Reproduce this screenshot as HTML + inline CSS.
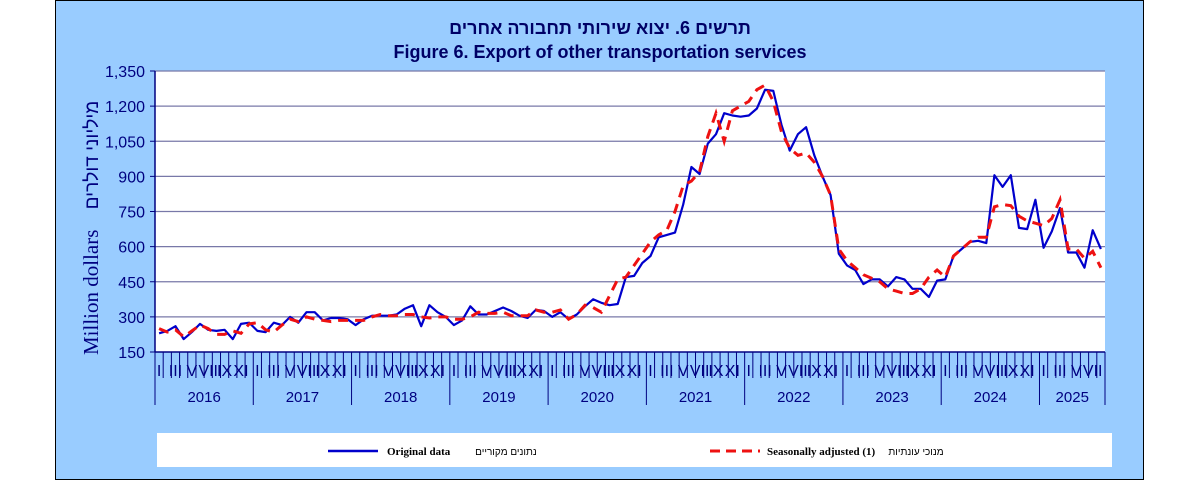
<!DOCTYPE html>
<html><head><meta charset="utf-8"><style>
body{margin:0;background:#fff;width:1200px;height:481px;overflow:hidden}
svg{display:block}
</style></head><body>
<svg id="s" width="1200" height="481" xmlns="http://www.w3.org/2000/svg" font-family="Liberation Sans, sans-serif">
<rect x="55.5" y="0.5" width="1088" height="479" fill="#99CCFF" stroke="#000" stroke-width="1"/>
<rect x="155" y="71" width="950" height="281" fill="#fff"/>
<text x="600" y="34" text-anchor="middle" font-size="18" font-weight="bold" fill="#000066" font-family="Liberation Sans, 'Noto Sans CJK JP', sans-serif">תרשים 6. יצוא שירותי תחבורה אחרים</text>
<text x="600" y="58" text-anchor="middle" font-size="18" font-weight="bold" fill="#000066">Figure 6. Export of other transportation services</text>
<g id="grid"></g>
<text transform="translate(98,355) rotate(-90)" font-size="21" fill="#000080" font-family="Liberation Serif, serif">Million dollars</text>
<text transform="translate(98,155) rotate(-90)" font-size="19" fill="#000080" text-anchor="middle" font-family="Liberation Sans, 'Noto Sans CJK JP', sans-serif">מיליוני דולרים</text>
<g id="xax"></g>
<g id="series"></g>
<rect x="157" y="433" width="955" height="34" fill="#fff"/>
<line x1="328" y1="451" x2="378" y2="451" stroke="#0000CC" stroke-width="2.5"/>
<text x="387" y="455" font-size="11" font-weight="bold" font-family="Liberation Serif, serif" fill="#000">Original data</text>
<text x="506" y="455" font-size="10" text-anchor="middle" font-family="Liberation Sans, 'Noto Sans CJK JP', sans-serif" fill="#000">נתונים מקוריים</text>
<line x1="710" y1="451" x2="760" y2="451" stroke="#EE1111" stroke-width="3" stroke-dasharray="10,6"/>
<text x="767" y="455" font-size="11" font-weight="bold" font-family="Liberation Serif, serif" fill="#000">Seasonally adjusted (1)</text>
<text x="916" y="455" font-size="10" text-anchor="middle" font-family="Liberation Sans, 'Noto Sans CJK JP', sans-serif" fill="#000">מנוכי עונתיות</text>
</svg>
<script>
var NS="http://www.w3.org/2000/svg";
function el(p,t,a,txt){var e=document.createElementNS(NS,t);for(var k in a)if(a[k]!==undefined)e.setAttribute(k,a[k]);if(txt!==undefined)e.textContent=txt;p.appendChild(e);return e;}
function Y(v){return 352-(v-150)*281/1200;}
var g=document.getElementById('grid');
for(var v=150;v<=1350;v+=150){var y=Y(v);
 if(v>150)el(g,'line',{x1:155,y1:y,x2:1105,y2:y,stroke:'#7878a8','stroke-width':1.2});
 el(g,'line',{x1:150,y1:y,x2:155,y2:y,stroke:'#000080','stroke-width':1});
 el(g,'text',{x:145,y:y+6,'text-anchor':'end','font-size':16,fill:'#000080'},v.toLocaleString('en-US'));}
el(g,'line',{x1:155,y1:71,x2:155,y2:352,stroke:'#000080','stroke-width':1.5});
var xa=document.getElementById('xax');var N=116,W=950/N;
el(xa,'line',{x1:155,y1:352,x2:1105,y2:352,stroke:'#000080','stroke-width':1.5});
var rom=['I','II','III','IV','V','VI','VII','VIII','IX','X','XI','XII'];
for(var i=0;i<=N;i++){var x=155+i*W;var yr=(i%12==0)||i==N;
 el(xa,'line',{x1:x,y1:352,x2:x,y2:yr?405:378,stroke:'#000080','stroke-width':1});
 if(i<N&&i%2==0)el(xa,'text',{x:x+W/2,y:376,'text-anchor':'middle','font-size':16,fill:'#000080'},rom[i%12]);}
for(var k=0;k<10;k++){var a=155+k*12*W,b=Math.min(155+(k+1)*12*W,1105);
 el(xa,'text',{x:(a+b)/2,y:402,'text-anchor':'middle','font-size':15,fill:'#000080'},2016+k);}
var o=[230,240,260,205,235,270,245,240,245,205,270,275,
240,235,275,265,300,275,320,320,285,295,295,290,
265,290,305,305,305,310,335,350,260,350,320,300,
265,285,345,310,310,325,340,325,305,295,330,325,
300,320,290,310,345,375,360,350,355,470,475,530,
560,640,650,660,780,940,910,1040,1080,1170,1160,1155,
1160,1190,1270,1265,1120,1010,1080,1110,990,900,820,570,
520,500,440,460,460,430,470,460,420,420,385,455,
460,560,590,620,625,615,905,855,905,680,675,800,
595,665,765,575,575,510,670,590];
var s=[250,235,245,215,240,265,250,225,225,240,230,270,
275,245,235,265,290,280,300,290,285,280,285,285,
285,285,300,310,305,305,310,310,300,295,300,300,
290,290,300,320,315,315,320,305,305,305,330,320,
320,330,290,310,350,340,320,390,460,470,520,570,
620,650,670,750,860,880,920,1070,1170,1050,1180,1200,
1220,1270,1290,1220,1090,1020,990,1000,960,900,820,590,
540,510,480,465,450,420,410,400,400,420,470,500,
470,560,590,620,640,640,770,780,775,730,710,700,
690,720,800,590,590,550,580,510];
function pts(a){return a.map(function(v,i){return (155+W/2+i*W).toFixed(1)+','+Y(v).toFixed(1)}).join(' ');}
var se=document.getElementById('series');
el(se,'polyline',{points:pts(o),fill:'none',stroke:'#0000CC','stroke-width':2.2,'stroke-linejoin':'round'});
el(se,'polyline',{points:pts(s),fill:'none',stroke:'#EE1111','stroke-width':3,'stroke-dasharray':'10,7'});
</script>
</body></html>
